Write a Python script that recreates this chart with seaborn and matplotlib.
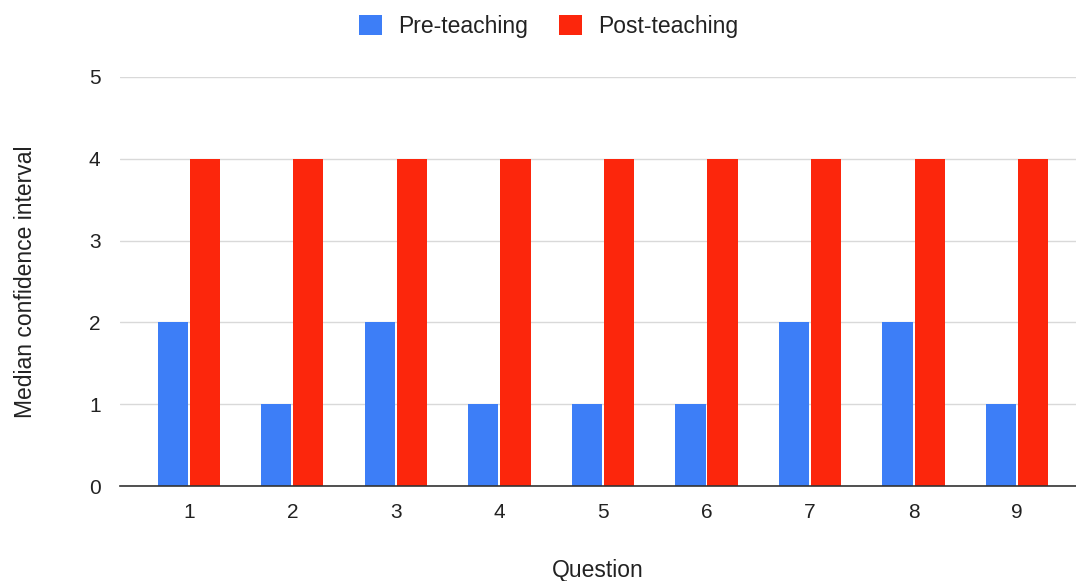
import matplotlib
matplotlib.use("Agg")
import matplotlib.pyplot as plt
import seaborn as sns
import pandas as pd
from matplotlib.patches import Patch

questions = ["1", "2", "3", "4", "5", "6", "7", "8", "9"]
pre_teaching = [2, 1, 2, 1, 1, 1, 2, 2, 1]
post_teaching = [4, 4, 4, 4, 4, 4, 4, 4, 4]
series_names = ["Pre-teaching", "Post-teaching"]
colors = ["#3D7EF7", "#FC260C"]

df = pd.DataFrame({
    "Question": questions * 2,
    "Value": pre_teaching + post_teaching,
    "Phase": [series_names[0]] * len(questions) + [series_names[1]] * len(questions),
})

sns.set_style("white")
plt.rcParams["font.family"] = ["Liberation Sans", "DejaVu Sans"]

fig = plt.figure(figsize=(10.76, 5.81), dpi=100)
ax = fig.add_axes([0.1115, 0.1635, 0.8885, 0.704])

sns.barplot(data=df, x="Question", y="Value", hue="Phase", order=questions,
            hue_order=series_names, palette=colors, width=0.62, gap=0.06,
            saturation=1, ax=ax, legend=False, linewidth=0)

ax.set_xlim(-0.664, len(questions) - 0.432)
ax.set_ylim(0, 5)
ax.set_yticks(range(6))
ax.yaxis.grid(True, color="#D9D9D9", linewidth=1)
ax.set_axisbelow(True)
for side in ["left", "right", "top"]:
    ax.spines[side].set_visible(False)
ax.spines["bottom"].set_color("#333333")
ax.spines["bottom"].set_linewidth(1.2)
ax.spines["bottom"].set_zorder(5)
ax.tick_params(axis="both", length=0, labelsize=15, colors="#222222")
ax.tick_params(axis="x", pad=12)
ax.tick_params(axis="y", pad=14)

ax.set_xlabel("Question", fontsize=16.5, color="#222222")
ax.set_ylabel("Median confidence interval", fontsize=16.5, color="#222222")
ax.xaxis.set_label_coords(0.5, -0.178)
ax.yaxis.set_label_coords(-0.087, 0.5)

handles = [Patch(facecolor=c, edgecolor="none") for c in colors]
fig.legend(handles, series_names, loc="upper center", bbox_to_anchor=(0.51, 1.01),
           ncol=2, frameon=False, fontsize=16.5, handlelength=1.0, handleheight=1.0,
           columnspacing=1.35, handletextpad=0.7, labelcolor="#222222")

fig.savefig("out.png", dpi=100)
